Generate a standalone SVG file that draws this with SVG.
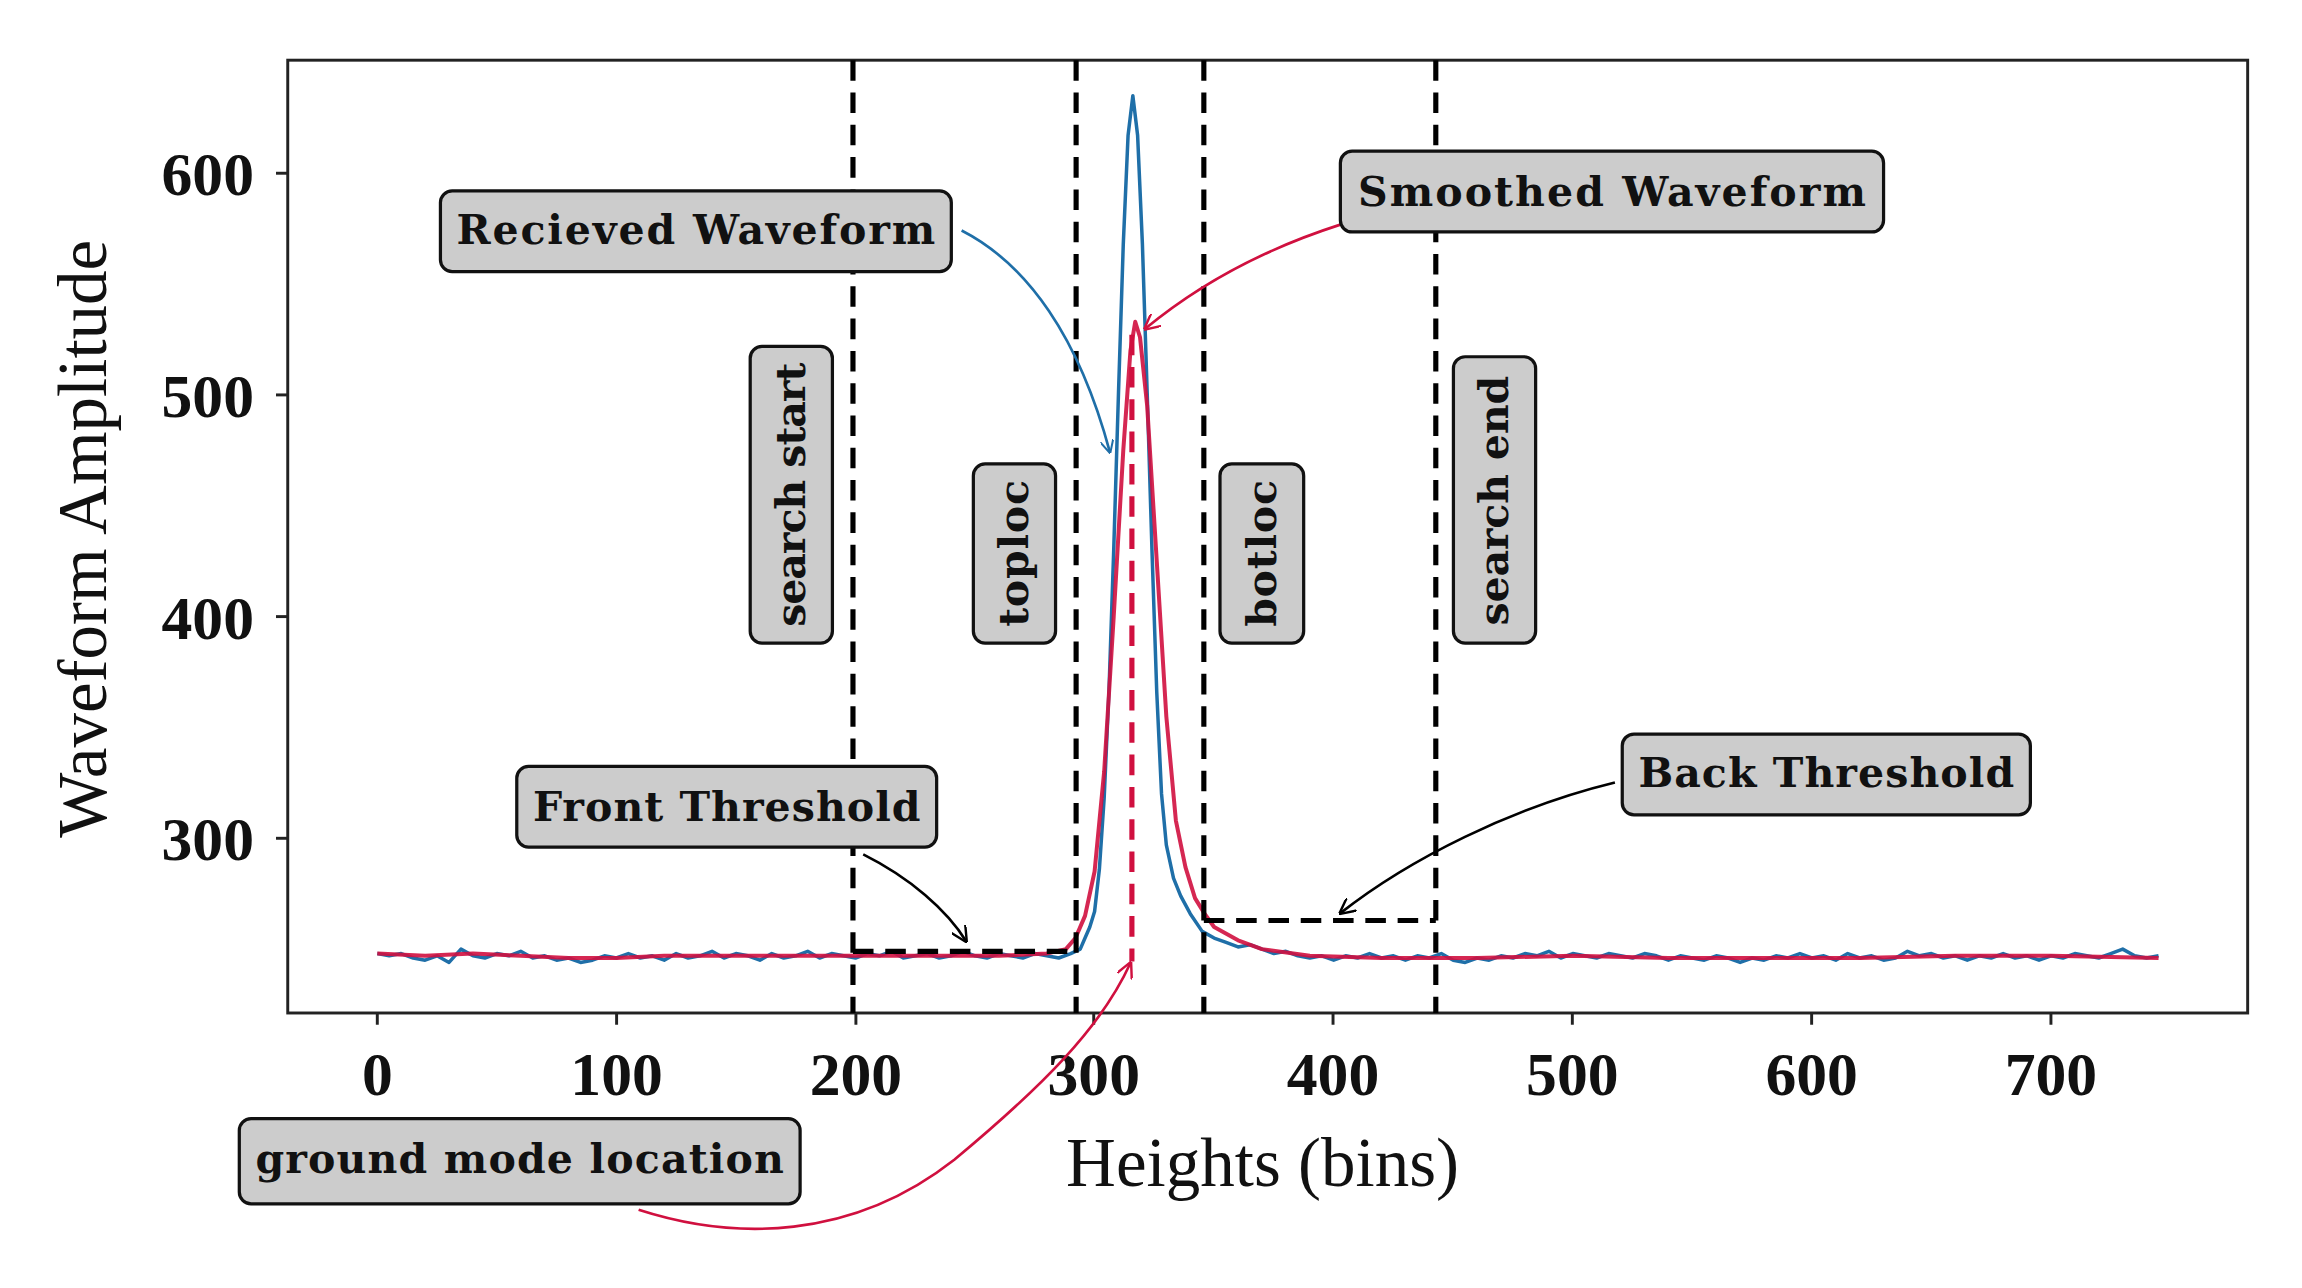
<svg xmlns="http://www.w3.org/2000/svg" width="2302" height="1288" viewBox="0 0 2302 1288">
<style>
.box{fill:#cccccc;stroke:#111;stroke-width:2.2}
.lbl{font-family:"DejaVu Serif","Liberation Serif",serif;font-weight:bold;font-size:28px;fill:#111}
.tick{font-family:"Liberation Serif","DejaVu Serif",serif;font-weight:bold;font-size:42px;fill:#111}
.ax{font-family:"Liberation Serif","DejaVu Serif",serif;font-size:47px;fill:#111}
.vd{stroke:#000;stroke-width:3.5;stroke-dasharray:14,8;fill:none}
</style>
<defs>
<marker id="ab" viewBox="0 0 10 10" refX="9" refY="5" markerWidth="9" markerHeight="9" orient="auto" markerUnits="userSpaceOnUse"><path d="M0,0 L10,5 L0,10" fill="none" stroke="#1f6fa8" stroke-width="1.5"/></marker>
<marker id="ar" viewBox="0 0 10 10" refX="9" refY="5" markerWidth="11" markerHeight="11" orient="auto" markerUnits="userSpaceOnUse"><path d="M0,0 L10,5 L0,10" fill="none" stroke="#d0103f" stroke-width="1.5"/></marker>
<marker id="ak" viewBox="0 0 10 10" refX="9" refY="5" markerWidth="11" markerHeight="11" orient="auto" markerUnits="userSpaceOnUse"><path d="M0,0 L10,5 L0,10" fill="none" stroke="#000" stroke-width="1.5"/></marker>
</defs>
<rect width="2302" height="1288" fill="#fff"/>
<g transform="scale(1.4681)">
<g id="axes">
<rect x="196" y="41" width="1335" height="649" fill="none" stroke="#222" stroke-width="2"/>
<g stroke="#222" stroke-width="2">
<line x1="257" y1="690" x2="257" y2="698"/><line x1="420" y1="690" x2="420" y2="698"/><line x1="583" y1="690" x2="583" y2="698"/><line x1="745" y1="690" x2="745" y2="698"/><line x1="908" y1="690" x2="908" y2="698"/><line x1="1071" y1="690" x2="1071" y2="698"/><line x1="1234" y1="690" x2="1234" y2="698"/><line x1="1397" y1="690" x2="1397" y2="698"/>
<line x1="188" y1="118" x2="196" y2="118"/><line x1="188" y1="269" x2="196" y2="269"/><line x1="188" y1="420" x2="196" y2="420"/><line x1="188" y1="571" x2="196" y2="571"/>
</g>
<g class="tick" text-anchor="middle">
<text x="257" y="746">0</text><text x="420" y="746">100</text><text x="583" y="746">200</text><text x="745" y="746">300</text><text x="908" y="746">400</text><text x="1071" y="746">500</text><text x="1234" y="746">600</text><text x="1397" y="746">700</text>
</g>
<g class="tick" text-anchor="end">
<text x="173" y="133">600</text><text x="173" y="284">500</text><text x="173" y="435">400</text><text x="173" y="586">300</text>
</g>
<text class="ax" x="860" y="808" text-anchor="middle">Heights (bins)</text>
<text class="ax" transform="translate(72,367) rotate(-90)" text-anchor="middle">Waveform Amplitude</text>
</g>
<g id="curves" transform="translate(257,1024) scale(1.6286,-1.51)" fill="none">
<polyline vector-effect="non-scaling-stroke" stroke="#1f6fa8" stroke-width="3.5" stroke-linejoin="round" points="0,248 5,247 10,248 15,246 20,245 25,247 30,244 35,250 40,247 45,246 50,248 55,247 60,249 65,246 70,247 75,245 80,246 85,244 90,245 95,247 100,246 105,248 110,246 115,247 120,245 125,248 130,246 135,247 140,249 145,246 150,248 155,247 160,245 165,248 170,246 175,247 180,249 185,246 190,248 195,247 200,246 205,248 210,247 215,249 220,246 225,247 230,248 235,246 240,247 245,249 250,247 255,246 260,248 265,247 270,246 275,248 280,247 285,246 290,248 294,250 296,255 298,260 300,267 302,286 304,318 306,366 308,430 310,501 312,568 314,617 316,635 318,617 320,568 322,501 324,430 326,366 328,320 330,297 333,282 336,274 340,266 345,258 350,255 355,253 360,251 365,252 370,250 375,248 380,249 385,247 390,246 395,247 400,245 405,247 410,246 415,248 420,246 425,247 430,245 435,247 440,246 445,248 450,245 455,244 460,246 465,245 470,247 475,246 480,248 485,247 490,249 495,246 500,248 505,247 510,246 515,248 520,247 525,246 530,248 535,247 540,245 545,247 550,246 555,245 560,247 565,246 570,244 575,246 580,245 585,247 590,246 595,248 600,246 605,247 610,245 615,248 620,246 625,247 630,245 635,246 640,249 645,247 650,248 655,246 660,247 665,245 670,247 675,246 680,248 685,246 690,247 695,245 700,247 705,246 710,248 715,247 720,246 725,248 730,250 735,247 740,246 745,247"/>
<polyline vector-effect="non-scaling-stroke" stroke="#d0103f" stroke-width="4" stroke-linejoin="round" stroke-opacity="0.9" points="0,248 20,247 40,248 60,247 80,246 100,246 120,247 140,247 160,247 180,247 200,247 220,247 240,247 260,247 280,248 288,250 292,255 296,265 300,285 304,330 308,400 312,475 315,520 317,533 319,526 322,495 326,425 330,355 334,308 338,287 342,273 346,266 350,260 360,254 370,250 390,247 420,246 460,246 500,247 540,246 580,246 620,246 660,247 700,247 745,246"/>
</g>
<g id="markers">
<line class="vd" x1="581" y1="41" x2="581" y2="690"/>
<line class="vd" x1="733" y1="41" x2="733" y2="690"/>
<line class="vd" x1="820" y1="41" x2="820" y2="690"/>
<line class="vd" x1="978" y1="41" x2="978" y2="690"/>
<line x1="771" y1="228" x2="771" y2="655" stroke="#d0103f" stroke-width="3.5" style="stroke-dasharray:14,8"/>
<line class="vd" x1="581" y1="648" x2="733" y2="648"/>
<line class="vd" x1="820" y1="627" x2="978" y2="627"/>
</g>
<g id="connectors" fill="none" stroke-width="1.8">
<path d="M655,157 C700,180 735,230 756,308" stroke="#1f6fa8" marker-end="url(#ab)"/>
<path d="M913,153 C860,170 815,195 780,224" stroke="#d0103f" marker-end="url(#ar)"/>
<path d="M588,582 C620,598 645,620 658,641" stroke="#000" marker-end="url(#ak)"/>
<path d="M1100,533 C1030,550 960,585 913,622" stroke="#000" marker-end="url(#ak)"/>
<path d="M435,824 C500,845 580,845 650,790 C710,740 750,700 770,656" stroke="#d0103f" marker-end="url(#ar)"/>
</g>
<g id="n-recv"><rect class="box" x="300" y="130" width="348" height="55" rx="8"/><text class="lbl" x="474" y="166" text-anchor="middle" textLength="326">Recieved Waveform</text></g>
<g id="n-smooth"><rect class="box" x="913" y="103" width="370" height="55" rx="8"/><text class="lbl" x="1098" y="140" text-anchor="middle" textLength="346">Smoothed Waveform</text></g>
<g id="n-sstart"><rect class="box" x="511" y="236" width="56" height="202" rx="8"/><text class="lbl" transform="translate(548,337) rotate(-90)" text-anchor="middle" textLength="180">search start</text></g>
<g id="n-toploc"><rect class="box" x="663" y="316" width="56" height="122" rx="8"/><text class="lbl" transform="translate(700,377) rotate(-90)" text-anchor="middle" textLength="100">toploc</text></g>
<g id="n-botloc"><rect class="box" x="831" y="316" width="57" height="122" rx="8"/><text class="lbl" transform="translate(869,377) rotate(-90)" text-anchor="middle" textLength="100">botloc</text></g>
<g id="n-send"><rect class="box" x="990" y="243" width="56" height="195" rx="8"/><text class="lbl" transform="translate(1027,341) rotate(-90)" text-anchor="middle" textLength="170">search end</text></g>
<g id="n-front"><rect class="box" x="352" y="522" width="286" height="55" rx="8"/><text class="lbl" x="495" y="559" text-anchor="middle" textLength="264">Front Threshold</text></g>
<g id="n-back"><rect class="box" x="1105" y="500" width="278" height="55" rx="8"/><text class="lbl" x="1244" y="536" text-anchor="middle" textLength="256">Back Threshold</text></g>
<g id="n-ground"><rect class="box" x="163" y="762" width="382" height="58" rx="8"/><text class="lbl" x="354" y="799" text-anchor="middle" textLength="360">ground mode location</text></g>
</g>
</svg>
